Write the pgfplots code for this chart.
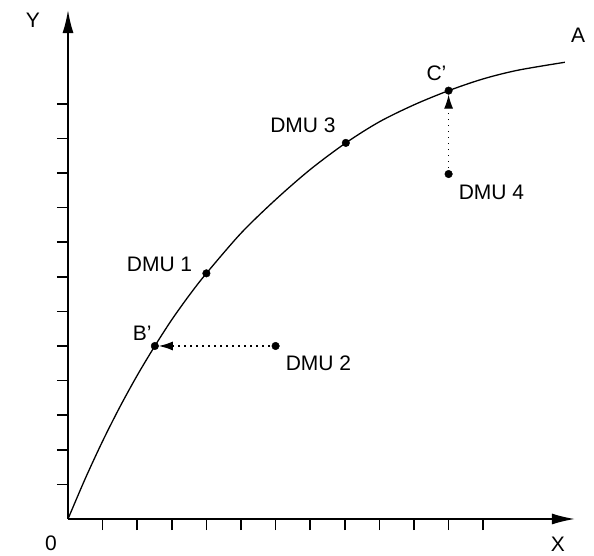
\documentclass[border=0pt]{standalone}
\usepackage{fontspec}
\setmainfont{Liberation Sans}
\usepackage{pgfplots}
\pgfplotsset{compat=1.18}
\usetikzlibrary{arrows.meta}

% frontier, in tick units
\pgfplotstableread{
x     y
0     0
0.5   1.17
1     2.25
1.5   3.24
2     4.15
2.51  5.00
3     5.76
3.5   6.46
4     7.10
5     8.26
6     9.23
7     10.10
8.03  10.87
9     11.48
10    11.97
11    12.38
12    12.72
13    12.97
14.36 13.20
}\frontier

\tikzset{lbl/.style={font=\fontsize{21}{24}\selectfont, inner sep=0pt}}

\begin{document}
\begin{tikzpicture}
\useasboundingbox (-68pt,-37pt) rectangle (526pt,519pt);
\begin{axis}[
    at={(0,0)}, anchor=south west,
    x=34.6pt, y=34.6pt,
    xmin=0, xmax=14.65, ymin=0, ymax=14.71,
    axis lines=left,
    axis line style={line width=1.6pt, -{Latex[length=23pt,width=11pt]}},
    xtick={1,...,12}, ytick={1,...,12},
    xticklabels={}, yticklabels={},
    tick align=outside,
    major tick length=11pt,
    major tick style={line width=1.5pt, black},
    clip=false,
]
% efficient frontier
\addplot[black, line width=1.3pt, smooth, no marks] table[x=x,y=y] {\frontier};

% projections of inefficient units
\addplot[black, line width=1.2pt, dash pattern=on 1.5pt off 4.5pt, shorten >=4pt,
    -{Latex[length=14pt,width=9pt]}] coordinates {(6.0,5.0) (2.51,5.0)};
\addplot[black, line width=1.2pt, dash pattern=on 1.5pt off 4.5pt, shorten >=4pt,
    -{Latex[length=14pt,width=9pt]}] coordinates {(11.0,9.97) (11.0,12.38)};

% DMUs and their projections
\addplot[only marks, mark=*, mark size=3.8pt, black] coordinates {
    (2.51,5.0) (6.0,5.0) (4.0,7.1) (8.03,10.87) (11.0,12.38) (11.0,9.97)};

\node[lbl, anchor=base east, xshift=-14pt, yshift=2pt] at (axis cs:4.0,7.1) {DMU 1};
\node[lbl, anchor=base east, xshift=-10pt, yshift=10pt] at (axis cs:8.03,10.87) {DMU 3};
\node[lbl, anchor=base west, xshift=10pt, yshift=-25pt] at (axis cs:6.0,5.0) {DMU 2};
\node[lbl, anchor=base west, xshift=10pt, yshift=-25pt] at (axis cs:11.0,9.97) {DMU 4};
\node[lbl, anchor=base east, xshift=-2pt, yshift=10pt] at (axis cs:11.0,12.38) {C’};
\node[lbl, anchor=base east, xshift=-3pt, yshift=5pt] at (axis cs:2.51,5.0) {B’};
\node[lbl, xshift=-17pt, yshift=-24pt] at (axis cs:0,0) {0};
\node[lbl, yshift=-25pt] at (axis cs:14.16,0) {X};
\node[lbl, xshift=-35pt] at (axis cs:0,14.42) {Y};
\node[lbl] at (axis cs:14.74,13.99) {A};
\end{axis}
\end{tikzpicture}
\end{document}
